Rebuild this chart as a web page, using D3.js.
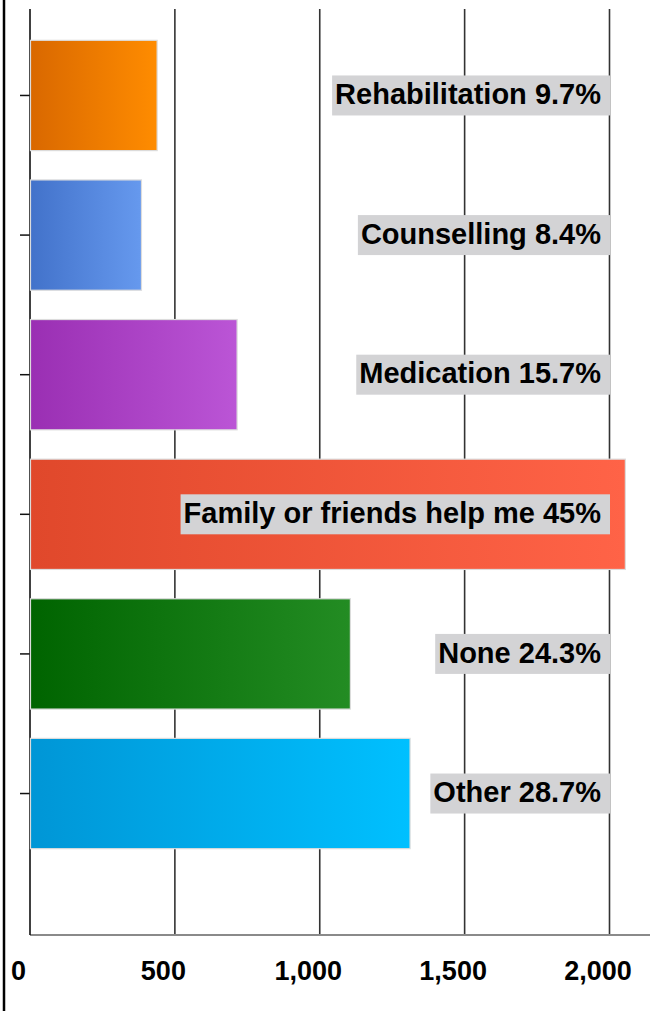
<!DOCTYPE html>
<html>
<head>
<meta charset="utf-8">
<script src="https://cdn.jsdelivr.net/npm/d3@7"></script>
<style>
  html, body { margin: 0; padding: 0; background: #fff; }
  svg { display: block; }
</style>
</head>
<body>
<svg id="chart" width="659" height="1011"></svg>
<script>
const categories = ["Rehabilitation", "Counselling", "Medication", "Family or friends help me", "None", "Other"];
const values = [437, 383, 713, 2053, 1104, 1310];
const percentLabels = ["9.7%", "8.4%", "15.7%", "45%", "24.3%", "28.7%"];
const colorStart = ["#d96800", "#4272ca", "#9a2fb3", "#e0482b", "#006400", "#0096d6"];
const colorEnd = ["#ff8c00", "#6699ee", "#bb55d6", "#ff6347", "#238c23", "#00c0ff"];
const xTicks = [0, 500, 1000, 1500, 2000];
const xTickLabels = ["0", "500", "1,000", "1,500", "2,000"];

const svg = d3.select("#chart");
const W = 659, H = 1011;
const x0 = 30, axisY = 935, gridTop = 9;

const x = d3.scaleLinear().domain([0, 2000]).range([x0, 609.5]);
const y = d3.scaleBand().domain(categories).range([11, 878]).padding(0.21);

const defs = svg.append("defs");
categories.forEach((c, i) => {
  const g = defs.append("linearGradient").attr("id", "grad" + i)
    .attr("x1", "0%").attr("x2", "100%").attr("y1", "0%").attr("y2", "0%");
  g.append("stop").attr("offset", "0%").attr("stop-color", colorStart[i]);
  g.append("stop").attr("offset", "100%").attr("stop-color", colorEnd[i]);
});

// left border
svg.append("line").attr("x1", 4).attr("x2", 4).attr("y1", 0).attr("y2", H)
  .attr("stroke", "#000").attr("stroke-width", 2.5);

// grid lines
svg.append("g").selectAll("line").data(xTicks.slice(1)).join("line")
  .attr("x1", d => x(d)).attr("x2", d => x(d))
  .attr("y1", gridTop).attr("y2", axisY)
  .attr("stroke", "#333").attr("stroke-width", 1.6);

// bottom axis line
svg.append("line").attr("x1", x0).attr("x2", 650).attr("y1", axisY).attr("y2", axisY)
  .attr("stroke", "#8a8a8a").attr("stroke-width", 2);

// y axis
const yAxis = d3.axisLeft(y).tickSize(10).tickFormat("");
const yg = svg.append("g").attr("transform", `translate(${x0},0)`).call(yAxis);
yg.select(".domain").remove();
yg.selectAll(".tick line").attr("stroke", "#111").attr("stroke-width", 1.5);
svg.append("line").attr("x1", x0).attr("x2", x0).attr("y1", gridTop).attr("y2", axisY)
  .attr("stroke", "#111").attr("stroke-width", 1.6);

// bars
svg.append("g").selectAll("rect").data(categories).join("rect")
  .attr("x", x(0) + 0.5)
  .attr("y", d => y(d))
  .attr("width", (d, i) => x(values[i]) - x(0))
  .attr("height", y.bandwidth())
  .attr("fill", (d, i) => `url(#grad${i})`)
  .attr("stroke", "#dcdcdc").attr("stroke-width", 1.2);

// x axis labels
const xAxis = d3.axisBottom(x).tickValues(xTicks).tickSize(0)
  .tickFormat((d, i) => xTickLabels[i]);
const xg = svg.append("g").attr("transform", `translate(0,${axisY})`).call(xAxis);
xg.select(".domain").remove();
xg.selectAll(".tick text")
  .attr("y", 45).attr("dy", 0).attr("dx", -12)
  .attr("fill", "#000")
  .style("font-family", "'Liberation Sans', Arial, sans-serif")
  .style("font-weight", "bold").style("font-size", "27px");

// value labels
const lg = svg.append("g");
categories.forEach((c, i) => {
  const cy = y(c) + y.bandwidth() / 2;
  const gg = lg.append("g");
  const rect = gg.append("rect").attr("fill", "#d3d3d5");
  const t = gg.append("text")
    .attr("x", 601).attr("y", cy).attr("dy", "0.3em")
    .attr("text-anchor", "end")
    .style("font-family", "'Liberation Sans', Arial, sans-serif")
    .style("font-weight", "bold").style("font-size", "29px")
    .attr("fill", "#000")
    .text(c + " " + percentLabels[i]);
  const bb = t.node().getBBox();
  rect.attr("x", bb.x - 3).attr("y", cy - 20)
    .attr("width", 610 - (bb.x - 3)).attr("height", 40);
});
</script>
</body>
</html>
